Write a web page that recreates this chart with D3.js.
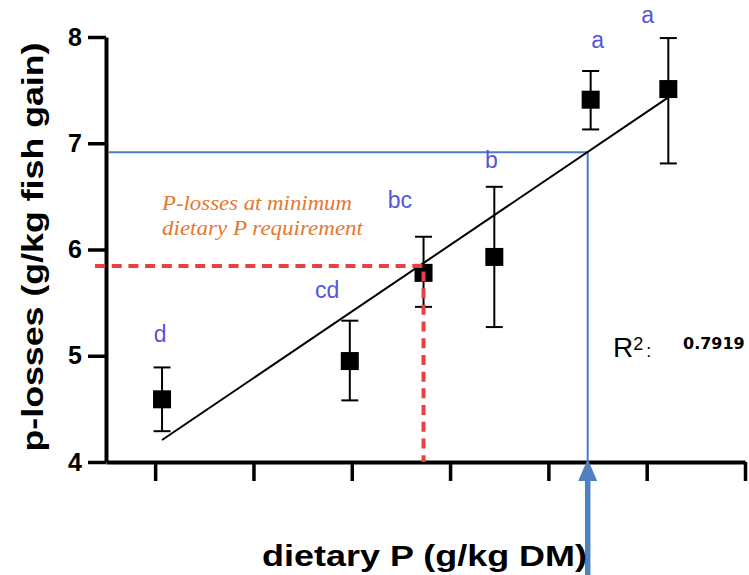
<!DOCTYPE html>
<html>
<head>
<meta charset="utf-8">
<script src="https://cdn.jsdelivr.net/npm/d3@7"></script>
<style>
  body { margin: 0; background: #fff; }
  svg { display: block; }
</style>
</head>
<body>
<div id="chart"></div>
<script>
'use strict';

// group means with error bar ends
var dietP   = [4.07, 5.98, 6.73, 7.45, 8.43, 9.22];
var pLoss   = [4.59, 4.95, 5.78, 5.93, 7.41, 7.51];
var errLow  = [4.29, 4.58, 5.46, 5.27, 7.13, 6.81];
var errHigh = [4.89, 5.33, 6.12, 6.59, 7.68, 7.99];

// significance letters and where they sit (data units)
var groups = ['d', 'cd', 'bc', 'b', 'a', 'a'];
var groupX = [4.05, 5.75, 6.49, 7.42, 8.50, 9.01];
var groupY = [5.13, 5.54, 6.39, 6.77, 7.90, 8.13];

var xTicks = [4, 5, 6, 7, 8, 9, 10];
var yTicks = [4, 5, 6, 7, 8];

// fitted line ends
var regX = [4.07, 9.22];
var regY = [4.207, 7.432];

// reference points
var reqP = 6.73, reqLoss = 5.845;
var optP = 8.40, optLoss = 6.915;
var rSquared = '0.7919';

var width = 749, height = 575;

var svg = d3.select('#chart')
    .append('svg')
    .attr('width', width)
    .attr('height', height);

var x = d3.scaleLinear().domain([3.5, 10]).range([106, 745]);
var y = d3.scaleLinear().domain([4, 8]).range([462, 37]);

var wide = 'DejaVu Sans, sans-serif';
var plain = 'Liberation Sans, Arial, sans-serif';

// axes
var yAxis = svg.append('g')
    .attr('transform', 'translate(' + x.range()[0] + ',0)')
    .call(d3.axisLeft(y).tickValues(yTicks).tickFormat(d3.format('d'))
        .tickSize(18).tickSizeOuter(0).tickPadding(6));

var xAxis = svg.append('g')
    .attr('transform', 'translate(0,' + y.range()[0] + ')')
    .call(d3.axisBottom(x).tickValues(xTicks).tickFormat('').tickSize(19).tickSizeOuter(0));

[yAxis, xAxis].forEach(function (g) {
    g.select('.domain').attr('stroke', '#000').attr('stroke-width', 4);
    g.selectAll('.tick line').attr('stroke', '#000').attr('stroke-width', 3.5);
});

yAxis.selectAll('.tick text')
    .attr('fill', '#000')
    .style('font-family', plain)
    .style('font-weight', 'bold')
    .style('font-size', '25px');

// blue guide lines to the optimum
svg.append('path')
    .attr('d', 'M' + (x.range()[0] + 3) + ',' + y(optLoss) + 'H' + x(optP) + 'V' + y.range()[0])
    .attr('fill', 'none')
    .attr('stroke', '#4a7dc4')
    .attr('stroke-width', 2);

// arrow coming up from below the axis
var ax = x(optP), ay = y.range()[0];
svg.append('line')
    .attr('x1', ax).attr('x2', ax)
    .attr('y1', height).attr('y2', ay + 18)
    .attr('stroke', '#4f81bd')
    .attr('stroke-width', 5.5);
svg.append('path')
    .attr('d', 'M' + ax + ',' + (ay - 3) + 'L' + (ax + 9.5) + ',' + (ay + 19) + 'L' + (ax - 9.5) + ',' + (ay + 19) + 'Z')
    .attr('fill', '#4f81bd');

// regression line
svg.append('line')
    .attr('x1', x(regX[0])).attr('y1', y(regY[0]))
    .attr('x2', x(regX[1])).attr('y2', y(regY[1]))
    .attr('stroke', '#000')
    .attr('stroke-width', 2);

// error bars
var idx = d3.range(dietP.length);

var bars = svg.selectAll('.err')
    .data(idx)
    .enter()
    .append('g')
    .attr('class', 'err')
    .attr('stroke', '#000')
    .attr('stroke-width', 2);

bars.append('line')
    .attr('x1', function (i) { return x(dietP[i]); })
    .attr('x2', function (i) { return x(dietP[i]); })
    .attr('y1', function (i) { return y(errLow[i]); })
    .attr('y2', function (i) { return y(errHigh[i]); });

[errLow, errHigh].forEach(function (end) {
    bars.append('line')
        .attr('x1', function (i) { return x(dietP[i]) - 8.5; })
        .attr('x2', function (i) { return x(dietP[i]) + 8.5; })
        .attr('y1', function (i) { return y(end[i]); })
        .attr('y2', function (i) { return y(end[i]); });
});

// square markers
svg.selectAll('.mean')
    .data(idx)
    .enter()
    .append('rect')
    .attr('class', 'mean')
    .attr('x', function (i) { return x(dietP[i]) - 9; })
    .attr('y', function (i) { return y(pLoss[i]) - 9; })
    .attr('width', 18)
    .attr('height', 18)
    .attr('fill', '#000');

// red dashed requirement lines
svg.append('path')
    .attr('d', 'M' + (x.range()[0] - 11) + ',' + y(reqLoss) + 'H' + x(reqP) + 'V' + y.range()[0])
    .attr('fill', 'none')
    .attr('stroke', '#e8413f')
    .attr('stroke-width', 4)
    .attr('stroke-dasharray', '10,6.7');

// letters
svg.selectAll('.grp')
    .data(idx)
    .enter()
    .append('text')
    .attr('class', 'grp')
    .attr('x', function (i) { return x(groupX[i]); })
    .attr('y', function (i) { return y(groupY[i]); })
    .attr('text-anchor', 'middle')
    .attr('fill', '#5656dc')
    .style('font-family', plain)
    .style('font-size', '23px')
    .text(function (i) { return groups[i]; });

// orange note
var note = ['P-losses at minimum', 'dietary P requirement'];
var noteLen = [190, 201];
svg.selectAll('.note')
    .data(note)
    .enter()
    .append('text')
    .attr('class', 'note')
    .attr('x', 162)
    .attr('y', function (d, i) { return 210 + i * 25; })
    .attr('textLength', function (d, i) { return noteLen[i]; })
    .attr('lengthAdjust', 'spacingAndGlyphs')
    .attr('fill', '#e8772e')
    .style('font-family', 'Liberation Serif, Times New Roman, serif')
    .style('font-style', 'italic')
    .style('font-size', '20px')
    .text(function (d) { return d; });

// R squared
var r2 = svg.append('text')
    .attr('x', 613)
    .attr('y', 357)
    .attr('fill', '#000')
    .style('font-family', plain)
    .style('font-size', '28px');
r2.append('tspan').text('R');
r2.append('tspan').attr('dy', -7).style('font-size', '18px').text('2');
r2.append('tspan').attr('dy', 7).attr('dx', 3).style('font-size', '18px').text(':');

svg.append('text')
    .attr('x', 683)
    .attr('y', 349)
    .attr('fill', '#000')
    .style('font-family', wide)
    .style('font-weight', 'bold')
    .style('font-size', '16px')
    .text(rSquared);

// axis titles
svg.append('text')
    .attr('transform', 'translate(43,247) rotate(-90)')
    .attr('text-anchor', 'middle')
    .attr('textLength', 409)
    .attr('lengthAdjust', 'spacingAndGlyphs')
    .attr('fill', '#000')
    .style('font-family', plain)
    .style('font-weight', 'bold')
    .style('font-size', '29px')
    .text('p-losses (g/kg fish gain)');

svg.append('text')
    .attr('x', 424.5)
    .attr('y', 566)
    .attr('text-anchor', 'middle')
    .attr('textLength', 325)
    .attr('lengthAdjust', 'spacingAndGlyphs')
    .attr('fill', '#000')
    .style('font-family', plain)
    .style('font-weight', 'bold')
    .style('font-size', '30px')
    .text('dietary P (g/kg DM)');
</script>
</body>
</html>
